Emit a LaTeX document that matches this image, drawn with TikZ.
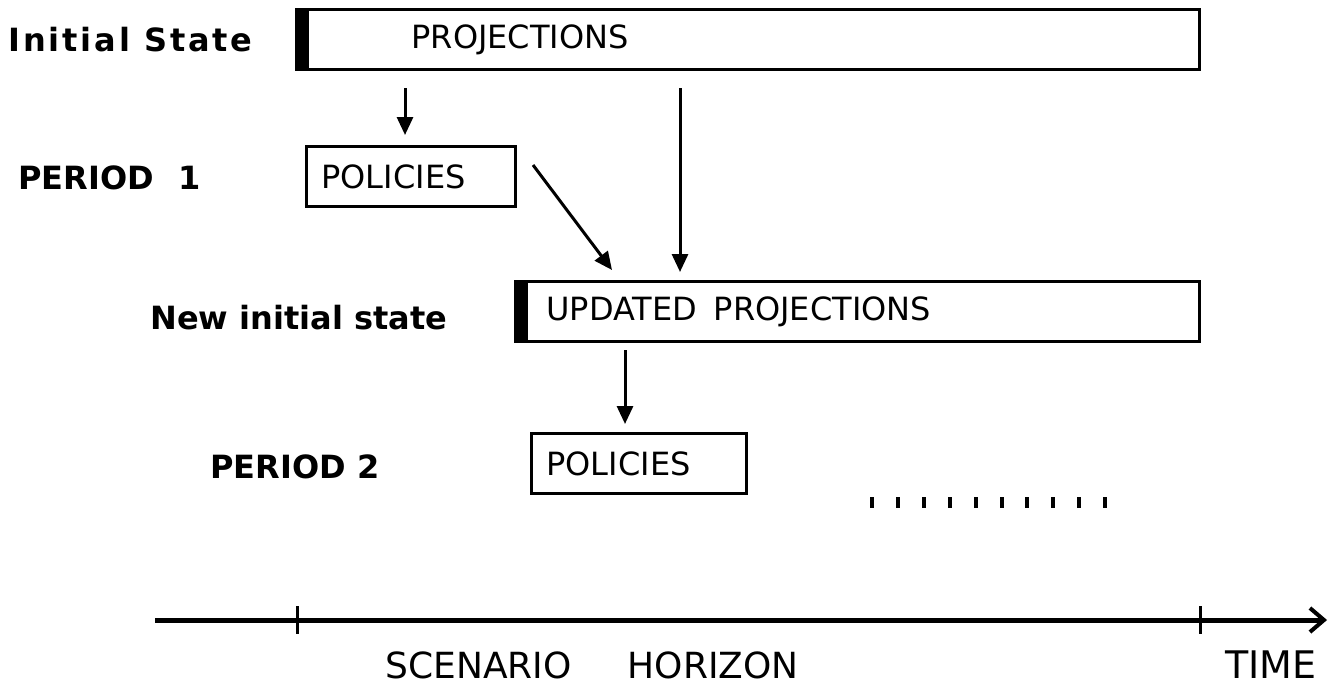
\documentclass[tikz,border=0pt]{standalone}
\usepackage{fontspec}
\setmainfont{DejaVu Sans}
\usetikzlibrary{arrows.meta}

\begin{document}
\begin{tikzpicture}[x=0.5pt,y=-0.5pt,
	lbl/.style={anchor=west,inner sep=0pt,font=\bfseries\fontsize{16}{18}\selectfont},
	boxbase/.style={draw,line width=1.5pt,anchor=north west,minimum height=30pt,inner ysep=0pt,align=left,font=\fontsize{16}{18}\selectfont},
	statebox/.style={boxbase,path picture={\fill (path picture bounding box.north west) rectangle ([xshift=6pt]path picture bounding box.south west);}},
	polbox/.style={boxbase,inner xsep=7.5pt},
	arr/.style={line width=1.5pt,-{Triangle[length=9pt,width=8pt]}}]
	\useasboundingbox (0,0) rectangle (1336,692);
	% row labels
	\node[lbl] (init) at (8,40) {\addfontfeature{LetterSpace=9}Initial State};
	\node[lbl] (per1) at (18,178) {PERIOD\hspace{12pt}1};
	\node[lbl] (newinit) at (150,318) {New initial state};
	\node[lbl] (per2) at (210,467) {PERIOD 2};
	% boxes
	\node[statebox,inner xsep=57.5pt,text width=336.5pt] (proj) at (295,8) {PROJECTIONS};
	\node[polbox,text width=89.5pt] (pol1) at (305,145) {POLICIES};
	\node[statebox,inner xsep=15.5pt,text width=311pt] (upd) at (514,280) {\raisebox{-3pt}{UPDATED\hspace{3pt} PROJECTIONS}};
	\node[polbox,text width=92.5pt] (pol2) at (530,432) {POLICIES};
	% arrows
	\coordinate (a1) at (405,88);
	\coordinate (a2) at (680,88);
	\coordinate (a3) at (625,350);
	\coordinate (d1) at (533,165);
	\coordinate (d2) at (612,270);
	\draw[arr] (a1) -- ([yshift=5pt]a1 |- pol1.north);
	\draw[arr] (a2) -- ([yshift=4pt]a2 |- upd.north);
	\draw[arr] (d1) -- (d2);
	\draw[arr] (a3) -- ([yshift=4pt]a3 |- pol2.north);
	% dots
	\foreach \i in {0,...,9} \draw[line width=2pt] (872+\i*25.9,497) -- ++(0,11);
	% time axis
	\coordinate (t0) at (155,620);
	\coordinate (t1) at (1327,620);
	\draw[line width=2.5pt,-{Straight Barb[length=7pt,width=12pt,line width=2pt]}] (t0) -- (t1);
	\foreach \x in {297,1200} \draw[line width=1.5pt] (\x,606) -- (\x,634);
	\node[anchor=west,inner sep=0pt,font=\fontsize{18}{20}\selectfont] (scen) at (385,665) {SCENARIO\hspace{28pt}HORIZON};
	\node[anchor=west,inner sep=0pt,font=\fontsize{19}{21}\selectfont] (time) at (1225,665) {TIME};
\end{tikzpicture}
\end{document}
